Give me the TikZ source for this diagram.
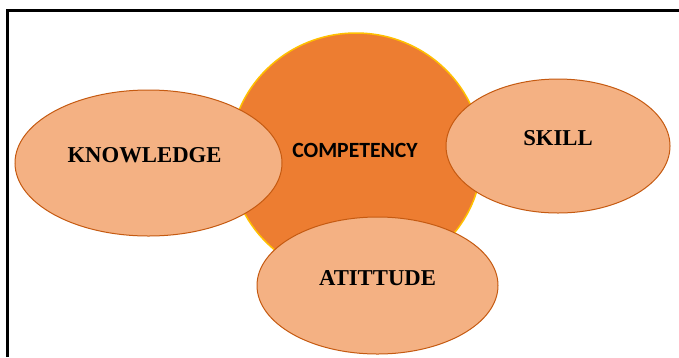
\documentclass[tikz,border=0pt]{standalone}
\usepackage{fontspec}
\setmainfont{Liberation Serif}
\newfontfamily\calibrifont{Carlito}
\usetikzlibrary{shapes.geometric}
\definecolor{compfill}{HTML}{ED7D31}
\definecolor{compedge}{HTML}{FFC000}
\definecolor{ovfill}{HTML}{F4B183}
\definecolor{ovedge}{HTML}{C55A11}
\tikzset{
  compshape/.style={ellipse, fill=compfill, draw=compedge, line width=1.5pt, inner sep=0pt, minimum width=252pt, minimum height=246pt},
  ovshape/.style={ellipse, fill=ovfill, draw=ovedge, line width=1pt, inner sep=0pt},
  serlbl/.style={font=\fontsize{22.7}{26}\selectfont\bfseries, text=black, inner sep=0pt},
  sanslbl/.style={font=\calibrifont\fontsize{21.7}{26}\selectfont\bfseries, text=black, inner sep=0pt},
  frameline/.style={draw=black, line width=2.5pt}
}
\begin{document}
\begin{tikzpicture}[x=1pt, y=-1pt]
\useasboundingbox (0,0) rectangle (679,357);
\fill[white] (0,0) rectangle (679,357);
\coordinate (fbl) at (7.5,357);
\coordinate (ftl) at (7.5,10.5);
\coordinate (ftr) at (679,10.5);
\draw[frameline] (fbl) -- (ftl) -- (ftr);
\node[compshape] (comp) at (356,156) {};
\node[ovshape, minimum width=267pt, minimum height=146pt] (know) at (148.5,163) {};
\node[ovshape, minimum width=224pt, minimum height=134pt] (skill) at (558,146) {};
\node[ovshape, minimum width=241pt, minimum height=137pt] (att) at (377.5,285.5) {};
\node[sanslbl] (compT) at (355,150) {COMPETENCY};
\node[serlbl] (knowT) at ([xshift=-4pt,yshift=8pt]know.center) {KNOWLEDGE};
\node[serlbl] (skillT) at ([yshift=8pt]skill.center) {SKILL};
\node[serlbl] (attT) at ([yshift=7.5pt]att.center) {ATITTUDE};
\end{tikzpicture}
\end{document}
